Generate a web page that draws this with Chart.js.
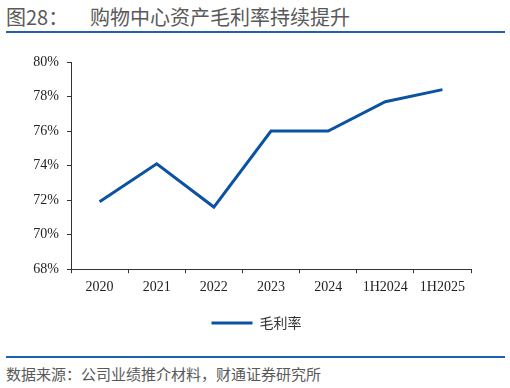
<!DOCTYPE html>
<html>
<head>
<meta charset="utf-8">
<script src="https://cdn.jsdelivr.net/npm/chart.js@4/dist/chart.umd.min.js"></script>
<style>
  body { margin: 0; background: #fff; width: 510px; height: 388px; overflow: hidden; position: relative; font-family: "Noto Sans CJK SC", sans-serif; }
  .title { position: absolute; top: 4px; font-size: 20px; color: #595959; line-height: 26px; white-space: nowrap; }
  .rule { position: absolute; left: 6px; width: 499px; height: 2px; background: #1f5fb0; }
  .source { position: absolute; left: 6px; top: 363px; font-size: 15px; color: #595959; line-height: 22px; white-space: nowrap; }
  #wrap { position: absolute; left: 0; top: 40px; width: 510px; height: 300px; }
</style>
</head>
<body>
<div class="title" style="left:6px">图28：</div>
<div class="title" style="left:90px">购物中心资产毛利率持续提升</div>
<div class="rule" style="top:31px"></div>
<div id="wrap"><canvas id="grossChart" width="510" height="300"></canvas></div>
<div class="rule" style="top:356px; height:1.5px"></div>
<div class="source">数据来源：公司业绩推介材料，财通证券研究所</div>
<script>
// periods and gross margin (%)
const periods = ["2020", "2021", "2022", "2023", "2024", "1H2024", "1H2025"];
const grossMargin = [71.9, 74.1, 71.6, 76.0, 76.0, 77.7, 78.4];
const yTicks = [68, 70, 72, 74, 76, 78, 80];

const lineBlue = "#0b52a3";

// nudge the legend a bit right and down, like in the source picture
const legendShift = {
  id: "legendShift",
  afterLayout(chart) {
    let lg = chart.legend;
    lg.left += 21; lg.right += 21;
    lg.top += 4; lg.bottom += 4;
  }
};

let ctx = document.getElementById("grossChart");
let chart = new Chart(ctx, {
  type: "line",
  data: {
    labels: periods,
    datasets: [{
      label: "毛利率",
      data: grossMargin,
      borderColor: lineBlue,
      backgroundColor: lineBlue,
      borderWidth: 3,
      pointRadius: 0,
      tension: 0
    }]
  },
  options: {
    responsive: false,
    animation: false,
    layout: { padding: { top: 22, right: 39, left: 0, bottom: 4 } },
    plugins: {
      tooltip: { enabled: false },
      legend: {
        position: "bottom",
        labels: {
          usePointStyle: true,
          pointStyle: "line",
          pointStyleWidth: 41,
          boxHeight: 10,
          padding: 10,
          color: "#333",
          font: { family: "'Noto Sans CJK SC'", size: 14 }
        }
      }
    },
    scales: {
      x: {
        offset: true,
        grid: { offset: true, drawOnChartArea: false, drawTicks: true, tickLength: 4, color: "#333" },
        border: { color: "#333", width: 1 },
        ticks: { color: "#222", padding: 6, maxRotation: 0, autoSkip: false, font: { family: "'Liberation Serif'", size: 14 } }
      },
      y: {
        min: 68,
        max: 80,
        afterFit: function(scale) { scale.width = 71; },
        afterBuildTicks: function(scale) { scale.ticks = yTicks.map(v => ({ value: v })); },
        grid: { drawOnChartArea: false, drawTicks: true, tickLength: 4, color: "#333" },
        border: { color: "#333", width: 1 },
        ticks: {
          color: "#222",
          padding: 8,
          font: { family: "'Liberation Serif'", size: 14 },
          callback: v => v + "%"
        }
      }
    }
  },
  plugins: [legendShift]
});
</script>
</body>
</html>
